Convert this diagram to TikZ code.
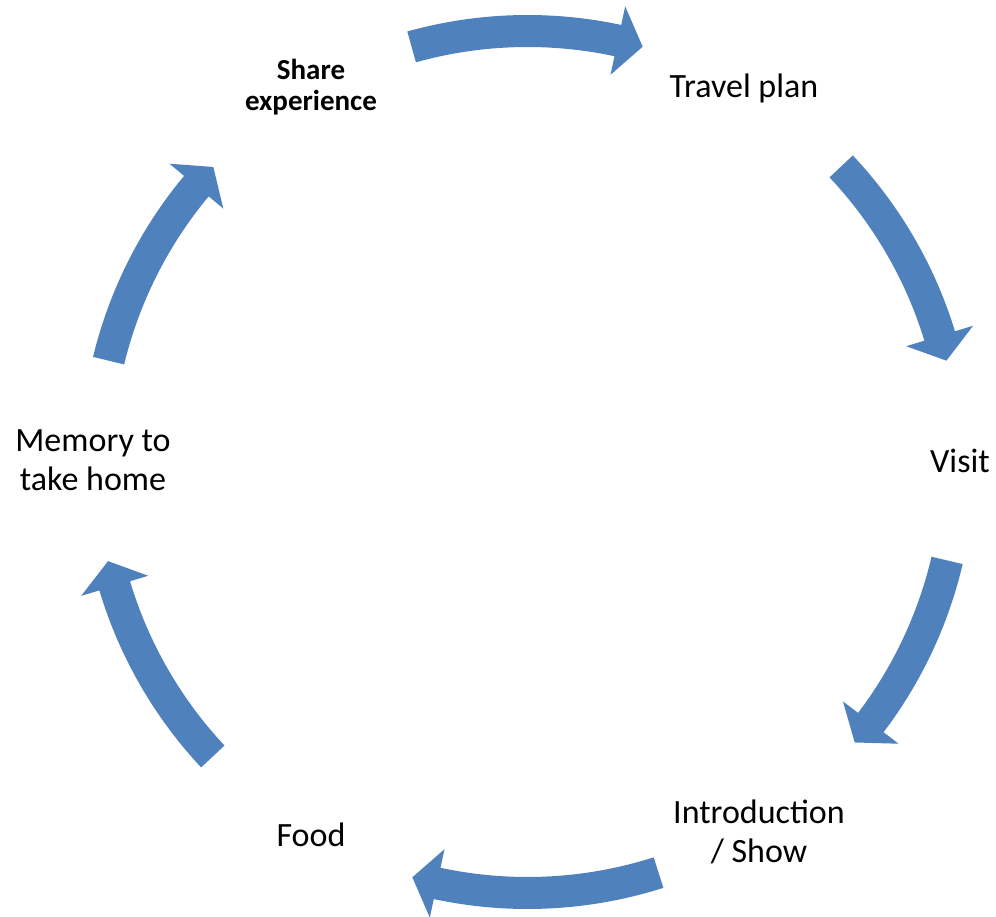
\documentclass[tikz,border=0pt]{standalone}
\usepackage{fontspec}
\setmainfont{Carlito}
\definecolor{arrowblue}{HTML}{4F81BD}
\newcommand{\cyclearrow}[2]{%
  \pgfmathsetmacro\shaftend{#2+3.4}%
  \fill[cyclearrow, shift={(C)}] (#1:447pt) arc[start angle=#1, end angle=\shaftend, radius=447pt]
    -- (\shaftend:466pt) -- (#2:431pt) -- (\shaftend:396pt) -- (\shaftend:415pt)
    arc[start angle=\shaftend, end angle=#1, radius=415pt] -- cycle;}
\begin{document}
\begin{tikzpicture}[x=1pt,y=1pt,
  lbl/.style={font=\fontsize{34}{39}\selectfont, align=center, inner sep=0pt},
  boldlbl/.style={font=\bfseries\fontsize{29}{31}\selectfont, align=center, inner sep=0pt},
  cyclearrow/.style={fill=arrowblue, draw=none}]
\useasboundingbox (0,0) rectangle (996,916);
\coordinate (C) at (527.5,454);
\cyclearrow{105.6}{74.5}
\cyclearrow{43.3}{13.6}
\cyclearrow{-13.2}{-40.6}
\cyclearrow{-72.3}{-105.5}
\cyclearrow{223.1}{193.3}
\cyclearrow{166.4}{136.8}
\node[boldlbl] (share) at (311,828.5) {Share\\experience};
\node[lbl] (travel) at (744,828) {Travel plan};
\node[lbl] (visit) at (960,455) {Visit};
\node[lbl] (intro) at (759,84) {Introduction\\/ Show};
\node[lbl] (food) at (311,81) {Food};
\node[lbl] (memory) at (93,455.5) {Memory to\\take home};
\end{tikzpicture}
\end{document}
